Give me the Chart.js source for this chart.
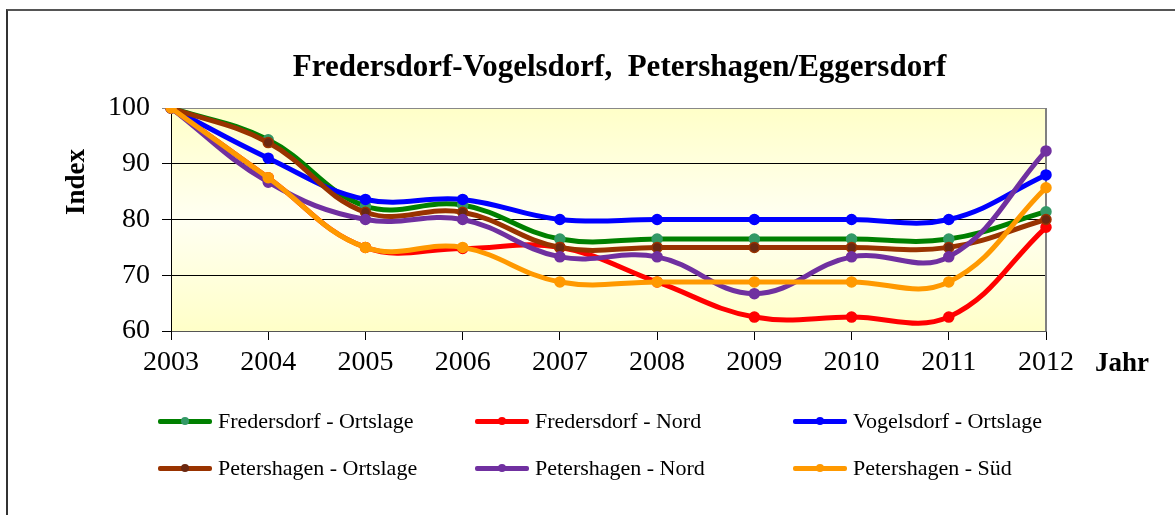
<!DOCTYPE html>
<html><head><meta charset="utf-8">
<script src="https://cdn.jsdelivr.net/npm/chart.js@4.4.0/dist/chart.umd.min.js"></script>
<style>
html,body{margin:0;padding:0;background:#fff;}
#wrap{position:relative;width:1175px;height:515px;overflow:hidden;background:#fff;font-family:"Liberation Serif","Times New Roman",serif;color:#000;}
#frame{position:absolute;left:6px;top:9px;width:1300px;height:700px;border-left:2px solid #333;border-top:2px solid #555;}
#cv{position:absolute;left:0;top:0;}
#title{position:absolute;left:0;width:1239px;top:46px;text-align:center;font-weight:bold;font-size:31px;line-height:40px;white-space:pre;}
#jahr{position:absolute;left:1095px;top:346px;font-weight:bold;font-size:27px;line-height:32px;}
#index{position:absolute;left:25px;top:166px;width:100px;height:32px;line-height:32px;text-align:center;font-weight:bold;font-size:27px;transform:rotate(-90deg);}
.lg{position:absolute;height:30px;white-space:nowrap;font-size:22px;line-height:30px;}
.lg .ln{position:absolute;left:0;top:13px;width:54px;height:5px;border-radius:2px;}
.lg .dt{position:absolute;left:23px;top:11px;width:8px;height:8px;border-radius:50%;}
.lg .tx{position:absolute;left:60px;top:0;}
</style></head>
<body><div id="wrap"><div id="frame"></div><canvas id="cv" width="1175" height="515"></canvas>
<div id="title">Fredersdorf-Vogelsdorf,  Petershagen/Eggersdorf</div>
<div id="index">Index</div>
<div id="jahr">Jahr</div>
<div id="legend"></div>
</div>
<script>
const years = ['2003','2004','2005','2006','2007','2008','2009','2010','2011','2012'];
const fredersdorfOrtslage = [100, 94.3, 82.4, 82.6, 76.5, 76.5, 76.5, 76.5, 76.5, 81.4];
const fredersdorfNord     = [100, 87.5, 75.0, 74.8, 75.0, 68.8, 62.5, 62.5, 62.5, 78.6];
const vogelsdorfOrtslage  = [100, 91.0, 83.6, 83.6, 80.0, 80.0, 80.0, 80.0, 80.0, 88.0];
const petershagenOrtslage = [100, 93.8, 81.3, 81.3, 75.0, 75.0, 75.0, 75.0, 75.0, 80.0];
const petershagenNord     = [100, 86.7, 80.0, 80.0, 73.3, 73.3, 66.7, 73.3, 73.3, 92.3];
const petershagenSued     = [100, 87.5, 75.0, 75.0, 68.8, 68.8, 68.8, 68.8, 68.8, 85.7];
const seriesNames = ['Fredersdorf - Ortslage','Fredersdorf - Nord','Vogelsdorf - Ortslage','Petershagen - Ortslage','Petershagen - Nord','Petershagen - Süd'];
const seriesData = [fredersdorfOrtslage, fredersdorfNord, vogelsdorfOrtslage, petershagenOrtslage, petershagenNord, petershagenSued];
const yTicks = [60, 70, 80, 90, 100];

const lineColors  = ['#008000','#FF0000','#0000FF','#993300','#7030A0','#FF9900'];
const pointFill   = ['#339966','#FF0000','#0000FF','#6B2810','#7030A0','#FF9900'];
const pointBorder = ['#339966','#FF0000','#0000FF','#993300','#7030A0','#FF9900'];
const FONT = '"Liberation Serif","Times New Roman",serif';

const bgPlugin = {
  id:'bg',
  beforeDraw(chart){
    const {ctx, chartArea:{left,top,right,bottom}} = chart;
    const g = ctx.createLinearGradient(0, top, 0, bottom);
    g.addColorStop(0, '#FFFFC8');
    g.addColorStop(0.5, '#FFFFF2');
    g.addColorStop(1, '#FFFFC8');
    ctx.save(); ctx.fillStyle = g; ctx.fillRect(left, top, right-left, bottom-top); ctx.restore();
  },
  beforeDatasetsDraw(chart){
    const {ctx, chartArea:{top,right,bottom}} = chart;
    ctx.save(); ctx.strokeStyle = '#808080'; ctx.lineWidth = 2;
    ctx.beginPath(); ctx.moveTo(right, top); ctx.lineTo(right, bottom); ctx.stroke(); ctx.restore();
  }
};

new Chart(document.getElementById('cv'), {
  type:'line',
  data:{
    labels: years,
    datasets: seriesData.map((d,i)=>({
      label: seriesNames[i], data: d,
      borderColor: lineColors[i], backgroundColor: lineColors[i],
      borderWidth: 5, tension: 0.4, fill:false,
      pointRadius: 5, pointHoverRadius: 5,
      pointBackgroundColor: pointFill[i], pointBorderColor: pointBorder[i], pointBorderWidth: 1.5,
      order: seriesData.length - i
    }))
  },
  options:{
    responsive:false, animation:false, devicePixelRatio:1,
    layout:{padding:{left:59, top:108, right:129, bottom:134}},
    plugins:{legend:{display:false}, tooltip:{enabled:false}, title:{display:false}},
    scales:{
      x:{
        offset:false,
        grid:{display:true, drawOnChartArea:false, drawTicks:true, tickLength:9, color:'#000', lineWidth:1},
        border:{display:true, color:'#555', width:1},
        ticks:{font:{family:FONT, size:28}, color:'#000', padding:6, maxRotation:0, autoSkip:false},
        afterFit(s){ s.height = 50; }
      },
      y:{
        min:60, max:100,
        afterBuildTicks(s){ s.ticks = yTicks.map(v=>({value:v})); },
        ticks:{font:{family:FONT, size:28}, color:'#000', padding:12},
        grid:{color:(c)=> (c.tick && c.tick.value===100) ? '#888' : '#000', lineWidth:1, tickLength:9},
        border:{display:true, color:'#000', width:1},
        afterFit(s){ s.width = 112; }
      }
    }
  },
  plugins:[bgPlugin]
});

// HTML legend
const legendPos = [[158,406],[475,406],[793,406],[158,453],[475,453],[793,453]];
const lg = document.getElementById('legend');
seriesNames.forEach((n,i)=>{
  const d = document.createElement('div'); d.className='lg';
  d.style.left = legendPos[i][0]+'px'; d.style.top = legendPos[i][1]+'px';
  d.innerHTML = '<div class="ln" style="background:'+lineColors[i]+'"></div><div class="dt" style="background:'+pointFill[i]+'"></div><div class="tx">'+n+'</div>';
  lg.appendChild(d);
});
</script></body></html>
